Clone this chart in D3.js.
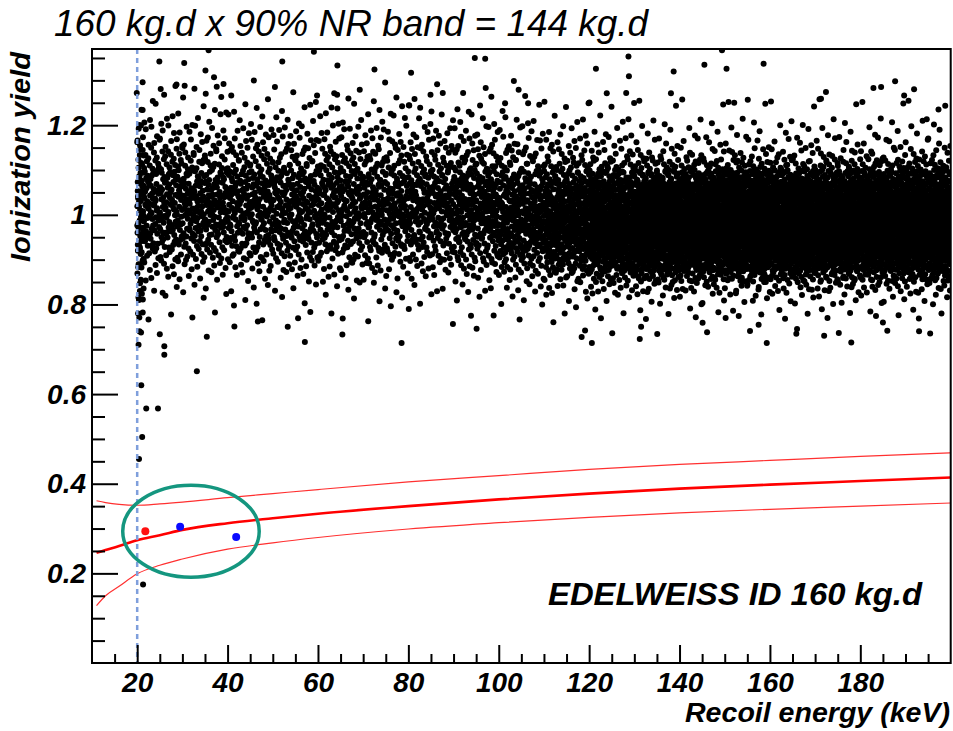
<!DOCTYPE html>
<html>
<head>
<meta charset="utf-8">
<script src="https://cdn.jsdelivr.net/npm/d3@7/dist/d3.min.js"></script>
<style>
  body { margin: 0; background: #fff; }
  text { font-family: "Liberation Sans", Arial, Helvetica, sans-serif; }
</style>
</head>
<body>
<svg id="chart" width="953" height="731"></svg>
<script>

// --- data ---

// yield rows (lower edges, step 0.025) used for the dense population
const yieldEdges = [0.700,0.725,0.750,0.775,0.800,0.825,0.850,0.875,0.900,0.925,0.950,0.975,1.000,
                    1.025,1.050,1.075,1.100,1.125,1.150,1.175,1.200,1.225,1.250,1.275,1.300,1.325,1.350];

// energy columns (keV) and the yield profile (events per 10 keV x 0.025 cell) seen in each
const energyEdges = [20,30,40,50,60,70,80,90,100,110,120,130,140,150,160,170,180,190,200];
const profileThreshold = [0,1,1,1,2,4,6,10,15,20,25,28,29,29,27,23,18,14,11,8,5,3,2,1,0,0];
const profileLow       = [0,0,1,1,2,3,5,9,14,19,23,27,28,28,26,22,16,13,9,7,4,3,2,1,0,0];
const profile90        = [0,0,1,1,2,4,6,11,17,23,28,32,32,31,28,23,18,13,9,7,4,3,2,1,0,0];
const profile100       = [0,0,1,1,3,5,9,15,22,28,33,35,35,32,27,21,16,12,8,6,4,2,1,1,0,0];
const profile110       = [0,1,1,2,3,7,13,22,33,42,47,48,46,40,32,24,16,11,7,5,3,2,1,0,0,0];
const profile120       = [0,1,1,2,4,9,19,35,54,66,72,72,67,57,44,30,17,10,6,4,3,2,1,0,0,0];
const profileHigh      = [0,1,1,2,5,10,24,45,68,82,88,88,82,70,55,36,18,9,5,3,2,1,1,0,0,0];
const columnProfiles = [profileThreshold, profileLow, profileLow, profileLow, profileLow, profileLow,
  profileLow, profile90, profile100, profile110, profile120, profileHigh, profileHigh, profileHigh,
  profileHigh, profileHigh, profileHigh, profileHigh];

// pile-up of events right at the 20 keV threshold
const thresholdEnergy = [20, 21.5];
const thresholdCounts = [0,1,1,1,2,2,2,3,3,3,3,3,3,3,3,2,2,2,1,1,1,1,0,0,0,0];

// isolated events [keV, yield]
const outliers = [
  [20.9,0.620],[22.0,0.568],[24.6,0.568],[21.1,0.504],[20.4,0.455],[21.3,0.175],
  [20.3,0.710],[20.5,0.740],[20.2,0.780],[20.4,0.810],[20.6,0.830],
  [33.2,0.651],[26.0,0.707],[26.0,0.688],[35.4,0.728],[41.5,0.751],[46.7,0.762],[55.6,0.769],
  [57.1,0.716],[65.4,0.733],[78.5,0.714],[95.1,0.746],[120.6,0.714],[119.1,0.742],
  [131.2,0.723],[131.5,0.750],[145.1,0.759],[150.2,0.770],[159.3,0.714],[157.5,0.755],
  [166.0,0.745],[172.0,0.730],[178.0,0.715],[185.0,0.760],[193.0,0.740],
  [24.9,1.342],[30.4,1.339],[35.8,1.367],[52.1,1.342],[59.1,1.364],[64.3,1.333],[72.5,1.324],
  [80.6,1.317],[35.1,1.322],[37.0,1.307],[21.2,1.296],[25.2,1.281],[28.7,1.291],[30.5,1.288],
  [37.6,1.286],[39.1,1.292],[38.6,1.263],[84.9,1.268],[80.2,1.244],[59.8,1.266],[63.6,1.271],
  [64.3,1.237],[19.9,1.272],
  [94.7,1.350],[97.0,1.348],[128.7,1.353],[149.4,1.367],[121.5,1.326],[138.7,1.320],[145.5,1.335],
  [150.4,1.326],[158.6,1.337],[128.8,1.309],[104.4,1.279],[123.9,1.271],[128.2,1.272],[138.1,1.271],
  [101.4,1.249],[106.5,1.249],[152.1,1.250],[155.1,1.257],
  [187.7,1.298],[182.9,1.283],[184.6,1.285],[172.4,1.274],[171.3,1.259],[191.9,1.280],
  [189.7,1.266],[197.3,1.235],[194.7,1.213]
];

// nuclear recoil band: centre and 90% limits
const bandEnergy = [11,13,16,20,25,30,40,50,60,80,100,120,140,160,180,200];
const bandLow  = [0.128,0.150,0.171,0.199,0.218,0.232,0.254,0.268,0.280,0.299,0.313,0.325,0.335,0.343,0.350,0.357];
const bandMid  = [0.246,0.252,0.261,0.274,0.285,0.297,0.312,0.323,0.333,0.350,0.365,0.378,0.389,0.398,0.406,0.414];
const bandHigh = [0.362,0.358,0.354,0.352,0.355,0.359,0.369,0.378,0.387,0.404,0.418,0.432,0.443,0.452,0.461,0.469];

// WIMP candidates
const redCandidates = [[21.8,0.294]];
const blueCandidates = [[29.5,0.304],[41.9,0.281]];
const candidateRegion = {e: 31.9, y: 0.294, re: 15.1, ry: 0.1027};

const thresholdLine = 20;
const xTicks = [20,40,60,80,100,120,140,160,180];
const yTicks = [0.2,0.4,0.6,0.8,1.0,1.2];

// --- drawing ---

const svg = d3.select('#chart');
const x = d3.scaleLinear().domain([10,200]).range([92,950.7]);
const y = d3.scaleLinear().domain([0,1.37]).range([663,49]);

// spread the events of each cell with a Halton sequence (bases 2 and 3)
function halton(i, b){
  var f = 1, r = 0;
  while(i > 0){
    f = f / b;
    r = r + f * (i % b);
    i = Math.floor(i / b);
  }
  return r;
}

var counter = 0;
var events = [];

function fillCell(e0, e1, y0, y1, n){
  for(var i = 0; i < n; i++){
    counter++;
    events.push([e0 + halton(counter, 2)*(e1-e0), y0 + halton(counter, 3)*(y1-y0)]);
  }
}

columnProfiles.forEach(function(row, j){
  row.forEach(function(n, k){
    fillCell(energyEdges[j], energyEdges[j+1], yieldEdges[k], yieldEdges[k+1], n);
  });
});
thresholdCounts.forEach(function(n, k){
  fillCell(thresholdEnergy[0], thresholdEnergy[1], yieldEdges[k], yieldEdges[k+1], n);
});
events = events.concat(outliers);

svg.append('defs').append('clipPath').attr('id','frame')
  .append('rect').attr('x',x(10)).attr('y',y(1.37))
  .attr('width',x(200)-x(10)).attr('height',y(0)-y(1.37));

const plot = svg.append('g').attr('clip-path','url(#frame)');

plot.append('g').selectAll('circle')
  .data(events)
  .join('circle')
  .attr('cx', d => x(d[0]))
  .attr('cy', d => y(d[1]))
  .attr('r', 3)
  .attr('fill', '#000');

// NR band
function bandLine(vals){
  return d3.line()
    .x((d,i) => x(bandEnergy[i]))
    .y(d => y(d))
    .curve(d3.curveMonotoneX)(vals);
}

plot.append('path').attr('d', bandLine(bandLow))
  .attr('fill','none').attr('stroke','#ff3030').attr('stroke-width',1.2);
plot.append('path').attr('d', bandLine(bandHigh))
  .attr('fill','none').attr('stroke','#ff3030').attr('stroke-width',1.2);
plot.append('path').attr('d', bandLine(bandMid))
  .attr('fill','none').attr('stroke','#ff0000').attr('stroke-width',2.6);

// threshold
plot.append('line')
  .attr('x1', x(thresholdLine)).attr('x2', x(thresholdLine))
  .attr('y1', y(1.37)).attr('y2', y(0))
  .attr('stroke','#7f9fdc').attr('stroke-width',2.5)
  .attr('stroke-dasharray','5,4');

// candidates
plot.append('g').selectAll('circle')
  .data(redCandidates)
  .join('circle')
  .attr('cx', d => x(d[0])).attr('cy', d => y(d[1]))
  .attr('r', 4).attr('fill', '#ff1010');

plot.append('g').selectAll('circle')
  .data(blueCandidates)
  .join('circle')
  .attr('cx', d => x(d[0])).attr('cy', d => y(d[1]))
  .attr('r', 4).attr('fill', '#0a0aff');

plot.append('ellipse')
  .attr('cx', x(candidateRegion.e)).attr('cy', y(candidateRegion.y))
  .attr('rx', x(candidateRegion.e + candidateRegion.re) - x(candidateRegion.e))
  .attr('ry', y(candidateRegion.y - candidateRegion.ry) - y(candidateRegion.y))
  .attr('fill','none').attr('stroke','#14967f').attr('stroke-width',3.5);

// axes
const tickFont = function(sel){
  sel.selectAll('text')
    .attr('font-size', 28).attr('font-weight','bold').attr('font-style','italic')
    .attr('fill','#000');
  sel.selectAll('line').attr('stroke','#000').attr('stroke-width',2);
  sel.select('.domain').remove();
};

const xMinor = d3.range(15, 200, 5).filter(v => v % 20 != 0);
const yMinor = d3.range(0.05, 1.37, 0.05).filter(v => Math.abs(v*5 - Math.round(v*5)) > 0.01);

svg.append('g').attr('transform', `translate(0,${y(0)})`)
  .call(d3.axisBottom(x).tickValues(xTicks).tickSizeInner(-18).tickSizeOuter(0).tickPadding(9))
  .call(tickFont);
svg.append('g').attr('transform', `translate(0,${y(0)})`)
  .call(d3.axisBottom(x).tickValues(xMinor).tickSizeInner(-9).tickSizeOuter(0).tickFormat(''))
  .call(tickFont);

svg.append('g').attr('transform', `translate(${x(10)},0)`)
  .call(d3.axisLeft(y).tickValues(yTicks).tickSizeInner(-26).tickSizeOuter(0).tickPadding(6)
    .tickFormat(d => String(+d.toFixed(1))))
  .call(tickFont);
svg.append('g').attr('transform', `translate(${x(10)},0)`)
  .call(d3.axisLeft(y).tickValues(yMinor).tickSizeInner(-13).tickSizeOuter(0).tickFormat(''))
  .call(tickFont);

// frame
svg.append('rect')
  .attr('x', x(10)).attr('y', y(1.37))
  .attr('width', x(200)-x(10)).attr('height', y(0)-y(1.37))
  .attr('fill','none').attr('stroke','#000').attr('stroke-width',2);

// labels
svg.append('text')
  .attr('x', 950).attr('y', 722)
  .attr('text-anchor','end')
  .attr('font-size', 27).attr('font-weight','bold').attr('font-style','italic')
  .attr('textLength', 265).attr('lengthAdjust','spacingAndGlyphs')
  .text('Recoil energy (keV)');

svg.append('text')
  .attr('transform', 'translate(30,52) rotate(-90)')
  .attr('text-anchor','end')
  .attr('font-size', 27).attr('font-weight','bold').attr('font-style','italic')
  .attr('textLength', 210).attr('lengthAdjust','spacingAndGlyphs')
  .text('Ionization yield');

svg.append('text')
  .attr('x', 54).attr('y', 36)
  .attr('font-size', 37).attr('font-style','italic')
  .attr('textLength', 594).attr('lengthAdjust','spacingAndGlyphs')
  .text('160 kg.d x 90% NR band = 144 kg.d');

svg.append('text')
  .attr('x', 548).attr('y', 605)
  .attr('font-size', 32).attr('font-weight','bold').attr('font-style','italic')
  .attr('textLength', 374).attr('lengthAdjust','spacingAndGlyphs')
  .text('EDELWEISS ID 160 kg.d');

</script>
</body>
</html>
